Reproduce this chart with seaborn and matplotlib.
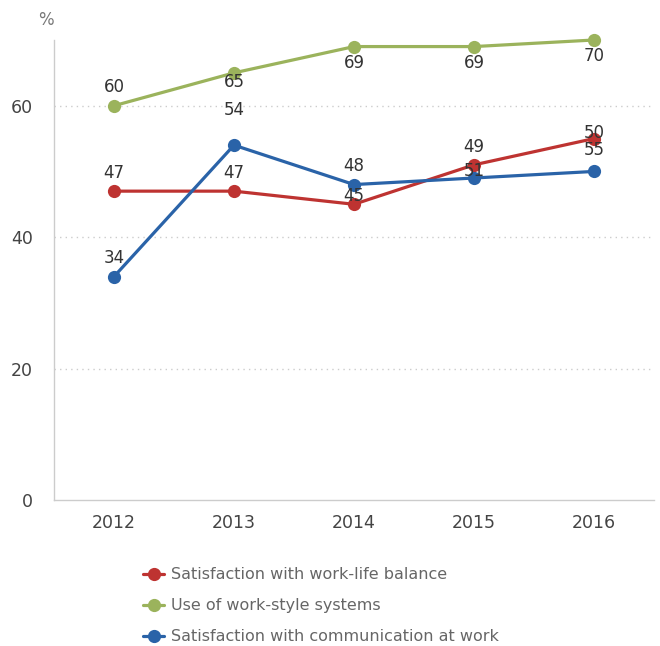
import pandas as pd
import seaborn as sns
from matplotlib import pyplot as plt

years = ['2012', '2013', '2014', '2015', '2016']
series_names = ['Satisfaction with work-life balance',
                'Use of work-style systems',
                'Satisfaction with communication at work']
work_life = [47, 47, 45, 51, 55]
work_style = [60, 65, 69, 69, 70]
communication = [34, 54, 48, 49, 50]
# point labels as printed on the chart
work_life_labels = ['47', '47', '45', '49', '50']
work_style_labels = ['60', '65', '69', '69', '70']
communication_labels = ['34', '54', '48', '51', '55']

colors = ['#BE3331', '#9BB35C', '#2A63A8']
# label offsets in pixels (upwards positive)
label_dy = [[18, 18, 8, 18, 6],
            [19, -9, -16, -16, -16],
            [19, 35, 19, 7, 21]]

df = pd.DataFrame({
    'year': years * 3,
    'value': work_life + work_style + communication,
    'series': [s for s in series_names for _ in years],
})

sns.set_style('white')
plt.rcParams['font.family'] = ['DejaVu Sans']

fig = plt.figure(figsize=(6.6, 6.46), dpi=100)
ax = fig.add_axes([54 / 660, 146 / 646, 600 / 660, 460 / 646])

sns.lineplot(data=df, x='year', y='value', hue='series', hue_order=series_names,
             palette=colors, marker='o', markersize=9.5, markeredgewidth=0,
             linewidth=2.3, ax=ax, sort=False, clip_on=False)

all_labels = [work_life_labels, work_style_labels, communication_labels]
all_values = [work_life, work_style, communication]
for vals, labs, dys in zip(all_values, all_labels, label_dy):
    for i, (v, lab, dy) in enumerate(zip(vals, labs, dys)):
        ax.annotate(lab, (i, v), xytext=(0, dy), textcoords='offset pixels',
                    ha='center', va='center', fontsize=12, color='#333333')

ax.set_xlim(-0.5, 4.5)
ax.set_ylim(0, 70)
ax.set_yticks([0, 20, 40, 60])
ax.set_xlabel('')
ax.set_ylabel('')
for y in [20, 40, 60]:
    ax.axhline(y, color='#cccccc', linestyle=(0, (1, 3)), linewidth=1, zorder=0)
for side in ['top', 'right']:
    ax.spines[side].set_visible(False)
for side in ['left', 'bottom']:
    ax.spines[side].set_color('#cccccc')
    ax.spines[side].set_linewidth(1)
ax.tick_params(axis='both', length=0, labelsize=12.5, colors='#444444')
ax.tick_params(axis='x', pad=10)
ax.tick_params(axis='y', pad=15)

fig.text(46 / 660, 1 - 20 / 646, '%', ha='center', va='center', fontsize=12, color='#777777')

handles, labels = ax.get_legend_handles_labels()
ax.get_legend().remove()
leg = fig.legend(handles, labels, loc='upper left', bbox_to_anchor=(129 / 660, 1 - 553 / 646),
                 frameon=False, fontsize=11.5, handlelength=1.3, handletextpad=0.45,
                 labelspacing=1.0, labelcolor='#666666')

fig.savefig('out.png', dpi=100)
